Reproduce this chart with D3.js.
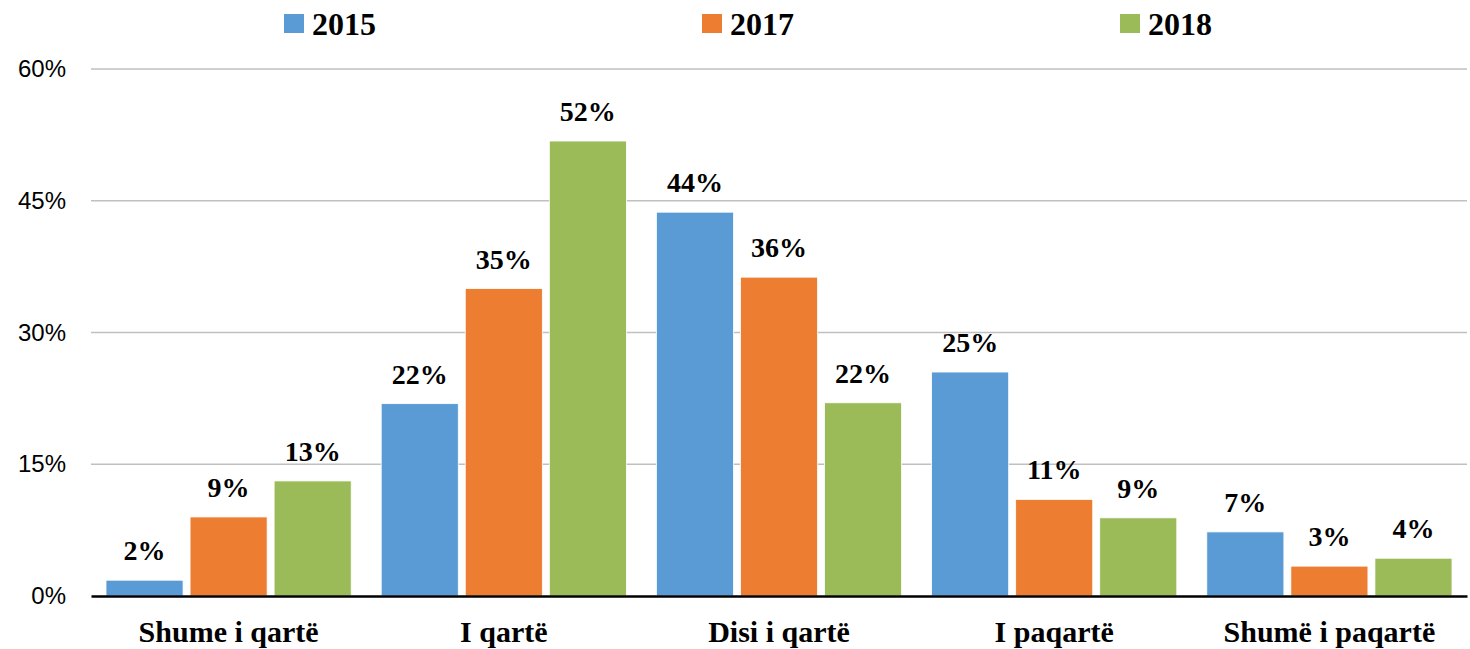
<!DOCTYPE html>
<html>
<head>
<meta charset="utf-8">
<script src="https://cdn.jsdelivr.net/npm/d3@7"></script>
<style>
  body { margin: 0; background: #fff; }
  .serif { font-family: "Liberation Serif", "Times New Roman", serif; font-weight: bold; }
  .sans { font-family: "Liberation Sans", Arial, sans-serif; }
</style>
</head>
<body>
<script>
'use strict';

// chart data
const categories = ["Shume i qartë", "I qartë", "Disi i qartë", "I paqartë", "Shumë i paqartë"];
const years = ["2015", "2017", "2018"];
const values2015 = [1.8, 21.9, 43.7, 25.5, 7.3];
const values2017 = [9.0, 35.0, 36.3, 11.0, 3.4];
const values2018 = [13.1, 51.8, 22.0, 8.9, 4.3];
const labels2015 = ["2%", "22%", "44%", "25%", "7%"];
const labels2017 = ["9%", "35%", "36%", "11%", "3%"];
const labels2018 = ["13%", "52%", "22%", "9%", "4%"];
const yTicks = [0, 15, 30, 45, 60];
const colors = ["#5B9BD5", "#ED7D31", "#9BBB59"];

(function() {
  let width = 1470, height = 649;
  let margin = { left: 91, right: 3, top: 69, bottom: 53 };

  let svg = d3.select('body').append('svg')
    .attr('width', width)
    .attr('height', height);

  let seriesValues = [values2015, values2017, values2018];
  let seriesLabels = [labels2015, labels2017, labels2018];

  let x0 = d3.scaleBand()
    .domain(categories)
    .range([margin.left, width - margin.right])
    .paddingInner(0)
    .paddingOuter(0);

  // bars inside each group, 15px free at each side
  let x1 = d3.scaleBand()
    .domain(years)
    .range([15, x0.bandwidth() - 15])
    .paddingInner(0.083)
    .paddingOuter(0);

  let y = d3.scaleLinear()
    .domain([0, 60])
    .range([height - margin.bottom, margin.top]);

  // gridlines
  svg.append('g')
    .selectAll('line')
    .data(yTicks.filter(d => d > 0))
    .enter().append('line')
      .attr('x1', margin.left)
      .attr('x2', width - margin.right)
      .attr('y1', d => y(d))
      .attr('y2', d => y(d))
      .attr('stroke', '#c0c0c0')
      .attr('stroke-width', 1.5);

  // y axis labels
  let yAxis = d3.axisLeft(y).tickValues(yTicks).tickFormat(d => d + '%').tickSize(0).tickPadding(25);
  let yg = svg.append('g')
    .attr('transform', `translate(${margin.left},0)`)
    .call(yAxis);
  yg.select('.domain').remove();
  yg.selectAll('text')
    .attr('class', 'sans')
    .style('font-size', '24px')
    .attr('fill', '#000');

  // bars
  years.forEach((yr, si) => {
    let g = svg.append('g');
    g.selectAll('rect')
      .data(seriesValues[si])
      .enter().append('rect')
        .attr('x', (d, i) => x0(categories[i]) + x1(yr))
        .attr('y', d => y(d))
        .attr('width', x1.bandwidth())
        .attr('height', d => y(0) - y(d))
        .attr('fill', colors[si])
        .attr('stroke', '#fff')
        .attr('stroke-width', 0.8);

    g.selectAll('text')
      .data(seriesValues[si])
      .enter().append('text')
        .attr('class', 'serif')
        .attr('x', (d, i) => x0(categories[i]) + x1(yr) + x1.bandwidth() / 2)
        .attr('y', d => y(d) - 20)
        .attr('text-anchor', 'middle')
        .style('font-size', '28px')
        .attr('fill', '#000')
        .text((d, i) => seriesLabels[si][i]);
  });

  // x axis
  let xAxis = d3.axisBottom(x0).tickSize(0).tickPadding(0);
  let xg = svg.append('g')
    .attr('transform', `translate(0,${y(0)})`)
    .call(xAxis);
  xg.select('.domain')
    .attr('stroke', '#000')
    .attr('stroke-width', 2.5);
  xg.selectAll('text')
    .attr('class', 'serif')
    .attr('dy', null)
    .attr('y', 46)
    .style('font-size', '30px')
    .attr('fill', '#000');

  // legend
  let legendX = [284, 702, 1120];
  let legend = svg.append('g');
  years.forEach((yr, i) => {
    let lg = legend.append('g')
      .attr('transform', `translate(${legendX[i]},0)`);
    lg.append('rect')
      .attr('x', 0)
      .attr('y', 14)
      .attr('width', 20)
      .attr('height', 19)
      .attr('fill', colors[i]);
    lg.append('text')
      .attr('class', 'serif')
      .attr('x', 28)
      .attr('y', 35)
      .style('font-size', '32px')
      .attr('fill', '#000')
      .text(yr);
  });
})();
</script>
</body>
</html>
